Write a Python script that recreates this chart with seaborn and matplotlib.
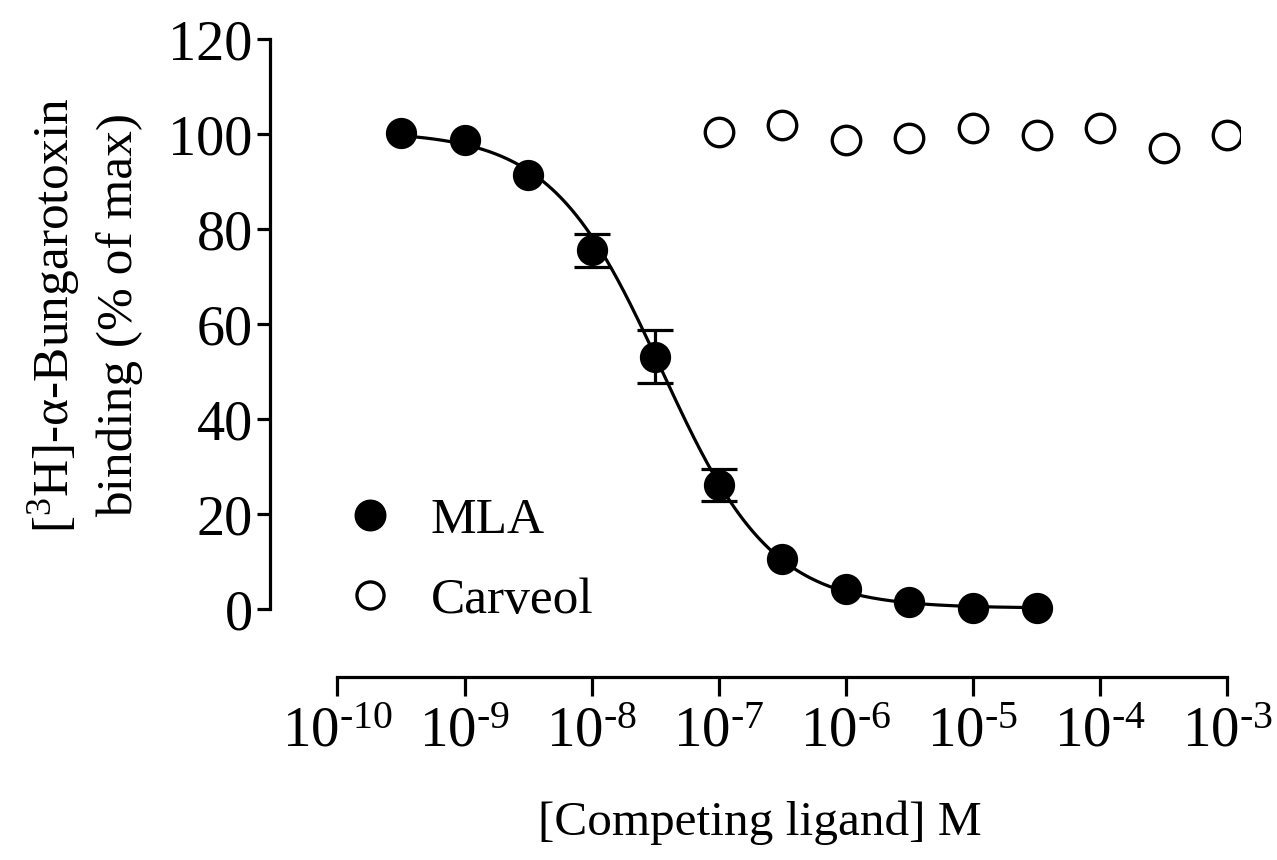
import numpy as np
import pandas as pd
import matplotlib
matplotlib.use("Agg")
import matplotlib.pyplot as plt
import seaborn as sns
from matplotlib.lines import Line2D

# ---- data ----
mla_logx = [-9.5, -9.0, -8.5, -8.0, -7.5, -7.0, -6.5, -6.0, -5.5, -5.0, -4.5]
mla_y = [100.3, 98.8, 91.4, 75.6, 53.2, 26.1, 10.5, 4.2, 1.4, 0.3, 0.2]
mla_err = [0, 0, 0, 3.5, 5.5, 3.4, 0, 0, 0, 0, 0]

carv_logx = [-7.0, -6.5, -6.0, -5.5, -5.0, -4.5, -4.0, -3.5, -3.0]
carv_y = [100.5, 101.9, 98.8, 99.2, 101.3, 99.9, 101.4, 97.1, 99.9]

# fitted one-site competition curve for MLA (parameters)
fit_top = 100.6
fit_bottom = 0.2
fit_logic50 = -7.45
fit_hill = 1.0
fit_range = (-9.5, -4.5)

x_tick_exps = [-10, -9, -8, -7, -6, -5, -4, -3]
y_ticks = [0, 20, 40, 60, 80, 100, 120]

# ---- style ----
sns.set_style("ticks")
plt.rcParams['font.family'] = ['Liberation Serif', 'DejaVu Serif']
plt.rcParams['mathtext.fontset'] = 'custom'
plt.rcParams['mathtext.rm'] = 'Liberation Serif'
plt.rcParams['mathtext.it'] = 'Liberation Serif'
plt.rcParams['mathtext.default'] = 'regular'
plt.rcParams['text.color'] = 'black'
plt.rcParams['axes.labelcolor'] = 'black'
plt.rcParams['xtick.color'] = 'black'
plt.rcParams['ytick.color'] = 'black'

fig = plt.figure(figsize=(12.77, 8.60), dpi=100)
W, H = 1277, 860
left_px, right_px = 270, 1240
top_px, bottom_px = 34.6, 677
ax = fig.add_axes([left_px / W, 1 - bottom_px / H, (right_px - left_px) / W, (bottom_px - top_px) / H])

mla_df = pd.DataFrame({"x": np.power(10.0, mla_logx), "y": mla_y, "err": mla_err})
carv_df = pd.DataFrame({"x": np.power(10.0, carv_logx), "y": carv_y})

lx = np.linspace(fit_range[0], fit_range[1], 400)
curve = fit_bottom + (fit_top - fit_bottom) / (1 + 10 ** ((lx - fit_logic50) * fit_hill))
curve_df = pd.DataFrame({"x": 10 ** lx, "y": curve})

sns.lineplot(data=curve_df, x="x", y="y", ax=ax, color="black", lw=2.3, zorder=2)

eb = mla_df[mla_df.err > 0]
ax.errorbar(eb.x, eb.y, yerr=eb.err, fmt="none", ecolor="black", elinewidth=2.3,
            capsize=13, capthick=2.3, zorder=3)

ax.plot(mla_df.x, mla_df.y, "o", ms=21.5, mfc="black", mec="black", zorder=4)
ax.plot(carv_df.x, carv_df.y, "o", ms=20.5, mfc="white", mec="black", mew=2.4, zorder=4)

ax.set_xscale("log")
ax.set_xlim(10 ** (-10.53), 10 ** (-2.9))
ax.set_ylim(-14.3, 121)

ax.set_xticks([10.0 ** e for e in x_tick_exps])
ax.set_xticklabels([r"10$^{" + "\u2010" + str(-e) + "}$" for e in x_tick_exps])
ax.xaxis.set_minor_locator(matplotlib.ticker.NullLocator())
ax.set_yticks(y_ticks)
ax.set_yticklabels([str(v) for v in y_ticks])

for s in ["top", "right"]:
    ax.spines[s].set_visible(False)
for s in ["left", "bottom"]:
    ax.spines[s].set_linewidth(2.3)
    ax.spines[s].set_color("black")
ax.spines["left"].set_bounds(0, 120)
ax.spines["bottom"].set_bounds(1e-10, 1e-3)

ax.tick_params(axis="y", length=9.5, width=2.3, labelsize=40.5, pad=3, colors="black")
ax.tick_params(axis="x", length=13.5, width=2.3, labelsize=41, pad=8, colors="black")

ax.set_xlabel("[Competing ligand] M", fontsize=35.5)
ax.xaxis.set_label_coords(0.505, -0.192)
ax.set_ylabel("[$^{3}$H]-\u03b1-Bungarotoxin\nbinding (% of max)", fontsize=37, linespacing=1.4)
ax.yaxis.set_label_coords(-0.131, 0.563)

handles = [
    Line2D([], [], ls="none", marker="o", ms=22, mfc="black", mec="black"),
    Line2D([], [], ls="none", marker="o", ms=19.5, mfc="white", mec="black", mew=2.4),
]
ax.legend(handles, ["MLA", "Carveol"], loc="upper left",
          bbox_to_anchor=(344.5 / W, 1 - 497 / H), bbox_transform=fig.transFigure,
          frameon=False, fontsize=37, handlelength=1.0, handletextpad=0.68,
          labelspacing=0.64, borderpad=0, borderaxespad=0)

fig.savefig("out.png", dpi=100, facecolor="white")
